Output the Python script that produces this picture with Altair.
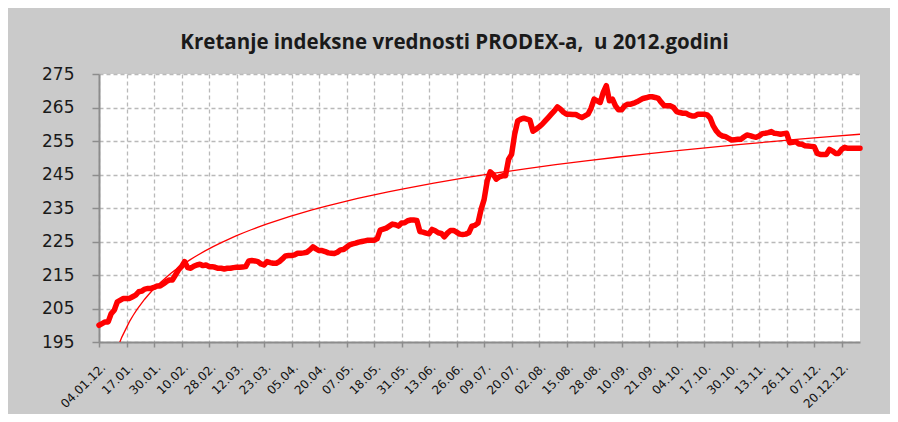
import json
import altair as alt
import pandas as pd

# PRODEX index values, one per trading day
values = [
    200.0, 200.5, 201.0, 201.0, 203.5, 204.5, 207.0, 207.5, 208.0, 208.0,
    208.0, 208.5, 209.0, 210.0, 210.2, 210.8, 211.0, 211.0, 211.3, 211.7,
    211.7, 212.3, 213.0, 213.5, 213.5, 215.0, 216.5, 217.5, 219.0, 217.2,
    217.0, 217.6, 218.0, 218.2, 217.8, 218.0, 217.5, 217.5, 217.3, 217.0,
    217.0, 216.8, 217.0, 217.0, 217.2, 217.3, 217.3, 217.4, 217.5, 219.2,
    219.3, 219.2, 219.0, 218.3, 218.0, 219.0, 218.7, 218.5, 218.5, 219.0,
    219.8, 220.7, 220.8, 220.8, 221.0, 221.5, 221.5, 221.6, 221.8, 222.5,
    223.4, 222.8, 222.3, 222.3, 222.0, 221.6, 221.5, 221.4, 221.8, 222.5,
    222.6, 223.3, 224.0, 224.3, 224.5, 224.8, 225.0, 225.2, 225.4, 225.4,
    225.4, 225.8, 228.4, 228.7, 229.0, 229.6, 230.2, 230.0, 229.6, 230.5,
    230.6, 231.2, 231.4, 231.4, 231.3, 228.0, 227.8, 227.5, 227.3, 228.6,
    228.2, 227.6, 227.4, 226.4, 227.5, 228.3, 228.3, 227.8, 227.2, 227.1,
    227.2, 227.6, 229.6, 229.8, 230.5, 234.5, 237.5, 243.0, 245.8, 245.0,
    243.6, 244.3, 244.6, 244.6, 249.5, 251.0, 257.0, 261.0, 261.5, 261.8,
    261.5, 261.2, 257.9, 258.5, 259.2, 260.0, 261.0, 262.0, 263.0, 264.0,
    265.2, 264.5, 263.6, 263.0, 263.0, 262.9, 262.9, 262.4, 262.0, 262.5,
    263.0, 264.8, 267.5, 267.0, 266.5, 269.5, 271.5, 267.0, 267.5, 265.5,
    264.3, 264.3, 265.5, 266.0, 266.0, 266.3, 266.7, 267.2, 267.7, 267.9,
    268.2, 268.2, 268.0, 267.7, 266.5, 265.5, 265.5, 265.5, 265.0, 263.8,
    263.5, 263.3, 263.3, 262.8, 262.5, 262.5, 263.0, 263.0, 263.0, 262.8,
    261.8, 259.5, 258.0, 257.0, 256.5, 256.3, 255.8, 255.3, 255.4, 255.5,
    255.5, 256.2, 256.8, 256.6, 256.3, 256.1, 256.5, 257.2, 257.3, 257.5,
    257.8, 257.3, 257.2, 257.0, 257.2, 257.3, 254.5, 254.6, 254.8, 254.1,
    254.0, 253.6, 253.5, 253.4, 253.3, 251.3, 251.0, 251.0, 251.0, 252.5,
    252.0, 251.3, 251.3, 252.5, 253.1, 252.8, 252.8, 252.8, 252.8, 252.8,
]

tick_labels = [
    "04.01.12.", "17.01.", "30.01.", "10.02.", "28.02.", "12.03.", "23.03.",
    "05.04.", "20.04.", "07.05.", "18.05.", "31.05.", "13.06.", "26.06.",
    "09.07.", "20.07.", "02.08.", "15.08.", "28.08.", "10.09.", "21.09.",
    "04.10.", "17.10.", "30.10.", "13.11.", "26.11.", "07.12.", "20.12.12.",
]
y_ticks = [195, 205, 215, 225, 235, 245, 255, 265, 275]

day_no = list(range(1, len(values) + 1))
tick_pos = [day_no[k * 9] for k in range(len(tick_labels))]

df = pd.DataFrame({"n": day_no, "v": values})

label_expr = json.dumps(tick_labels) + "[round((datum.value - 1) / 9)]"

x_enc = alt.X(
    "n:Q",
    scale=alt.Scale(domain=[1, len(values)], nice=False, zero=False),
    axis=alt.Axis(
        values=tick_pos,
        labelExpr=label_expr,
        title=None,
        labelAngle=-45,
        labelAlign="right",
        labelBaseline="middle",
        labelPadding=18,
        labelOffset=4,
        labelOverlap=False,
        labelFlush=False,
        labelFont="DejaVu Sans",
        labelFontSize=12,
        labelColor="#111111",
        tickSize=5,
        tickColor="#8c8c8c",
        tickWidth=1.5,
        domainColor="#8c8c8c",
        domainWidth=2,
        grid=True,
        gridDash=[4, 3],
        gridColor="#b9b9b9",
        gridWidth=1.3,
    ),
)
y_enc = alt.Y(
    "v:Q",
    scale=alt.Scale(domain=[195, 275], nice=False, zero=False),
    axis=alt.Axis(
        values=y_ticks,
        title=None,
        labelFont="DejaVu Sans",
        labelFontSize=17,
        labelColor="#1a1a1a",
        labelPadding=18,
        tickSize=7,
        tickColor="#8c8c8c",
        tickWidth=1.5,
        domainColor="#8c8c8c",
        domainWidth=2,
        grid=True,
        gridDash=[4, 3],
        gridColor="#b9b9b9",
        gridWidth=1.3,
    ),
)

base = alt.Chart(df)

index_line = base.mark_line(
    color="#ff0000", strokeWidth=5.5, strokeJoin="round", strokeCap="round"
).encode(x=x_enc, y=y_enc)

trend = (
    base.transform_regression("n", "v", method="log")
    .mark_line(color="#ff0000", strokeWidth=1.3, clip=True)
    .encode(x=x_enc, y=y_enc)
)

chart = (
    alt.layer(index_line, trend)
    .properties(
        width=761,
        height=268,
        title=alt.TitleParams(
            "Kretanje indeksne vrednosti PRODEX-a,\u00a0 u 2012.godini",
            font="Open Sans",
            fontSize=20.5,
            fontWeight="bold",
            color="#1a1a1a",
            anchor="middle",
            dx=-25,
            offset=12,
        ),
        background="#cacaca",
        padding={"left": 91, "top": 66, "right": 30, "bottom": 72},
        autosize=alt.AutoSizeParams(type="none"),
    )
    .configure_view(fill="white", strokeWidth=0)
)

chart.save("out.html", embed_options={"renderer": "svg", "actions": False})
